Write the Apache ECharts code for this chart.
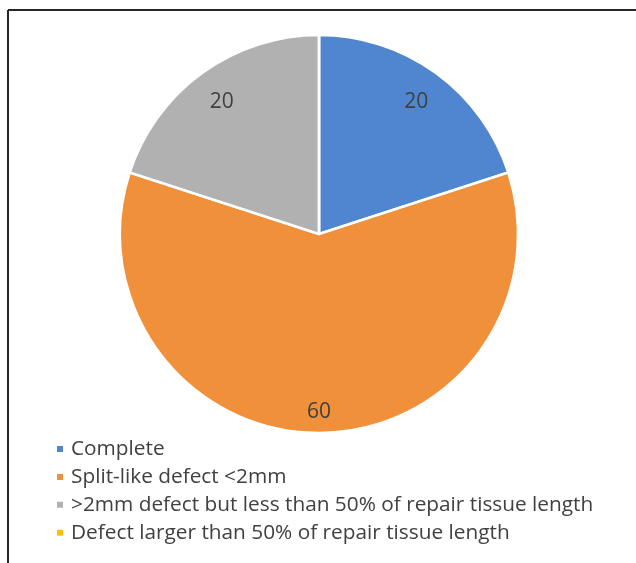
<!DOCTYPE html>
<html>
<head>
<meta charset="utf-8">
<script src="https://cdn.jsdelivr.net/npm/echarts@6/dist/echarts.min.js"></script>
<style>
  html, body { margin: 0; padding: 0; background: #fff; }
  #chart { width: 636px; height: 563px; }
</style>
</head>
<body>
<div id="chart"></div>
<script>
// Repair outcome categories and their counts
const categories = [
  'Complete',
  'Split-like defect <2mm',
  '>2mm defect but less than 50% of repair tissue length',
  'Defect larger than 50% of repair tissue length'
];
const values = [20, 60, 20, 0];
const colors = ['#4F86CF', '#F0903A', '#B1B1B1', '#FFC000'];

const chart = echarts.init(document.getElementById('chart'), null, { renderer: 'canvas' });

const pieData = categories.map((name, i) => ({
  name: name,
  value: values[i],
  itemStyle: { color: colors[i] }
}));

// Label ring: same data, transparent slices, labels placed near the rim
const labelData = categories.map((name, i) => ({
  name: name,
  value: values[i],
  label: values[i] > 40 ? { show: true, offset: [0, 13] } : { show: values[i] > 0, offset: [0, 2] }
}));

const center = [319, 234];
const R = 199;

chart.setOption({
  animation: false,
  backgroundColor: '#fff',
  graphic: [
    { type: 'line', shape: { x1: 8, y1: 10, x2: 636, y2: 10 }, style: { stroke: '#262626', lineWidth: 2 } },
    { type: 'line', shape: { x1: 8, y1: 10, x2: 8, y2: 563 }, style: { stroke: '#262626', lineWidth: 2 } }
  ],
  legend: {
    orient: 'vertical',
    left: 50,
    top: 433,
    icon: 'rect',
    itemWidth: 8,
    itemHeight: 8,
    itemGap: 5.9,
    textStyle: {
      fontFamily: 'Open Sans',
      fontSize: 20.8,
      lineHeight: 22,
      color: '#404040',
      padding: [0, 0, 0, 2]
    },
    data: categories
  },
  series: [
    {
      type: 'pie',
      center: center,
      radius: [0, R],
      startAngle: 90,
      clockwise: true,
      silent: true,
      label: { show: false },
      labelLine: { show: false },
      itemStyle: { borderColor: '#fff', borderWidth: 2.5 },
      data: pieData
    },
    {
      type: 'pie',
      center: center,
      radius: [126, R],
      startAngle: 90,
      clockwise: true,
      silent: true,
      legendHoverLink: false,
      itemStyle: { color: 'rgba(0,0,0,0)' },
      label: {
        position: 'inside',
        formatter: '{c}',
        fontFamily: 'Open Sans',
        fontSize: 21,
        color: '#404040'
      },
      labelLine: { show: false },
      data: labelData
    }
  ]
});
</script>
</body>
</html>
